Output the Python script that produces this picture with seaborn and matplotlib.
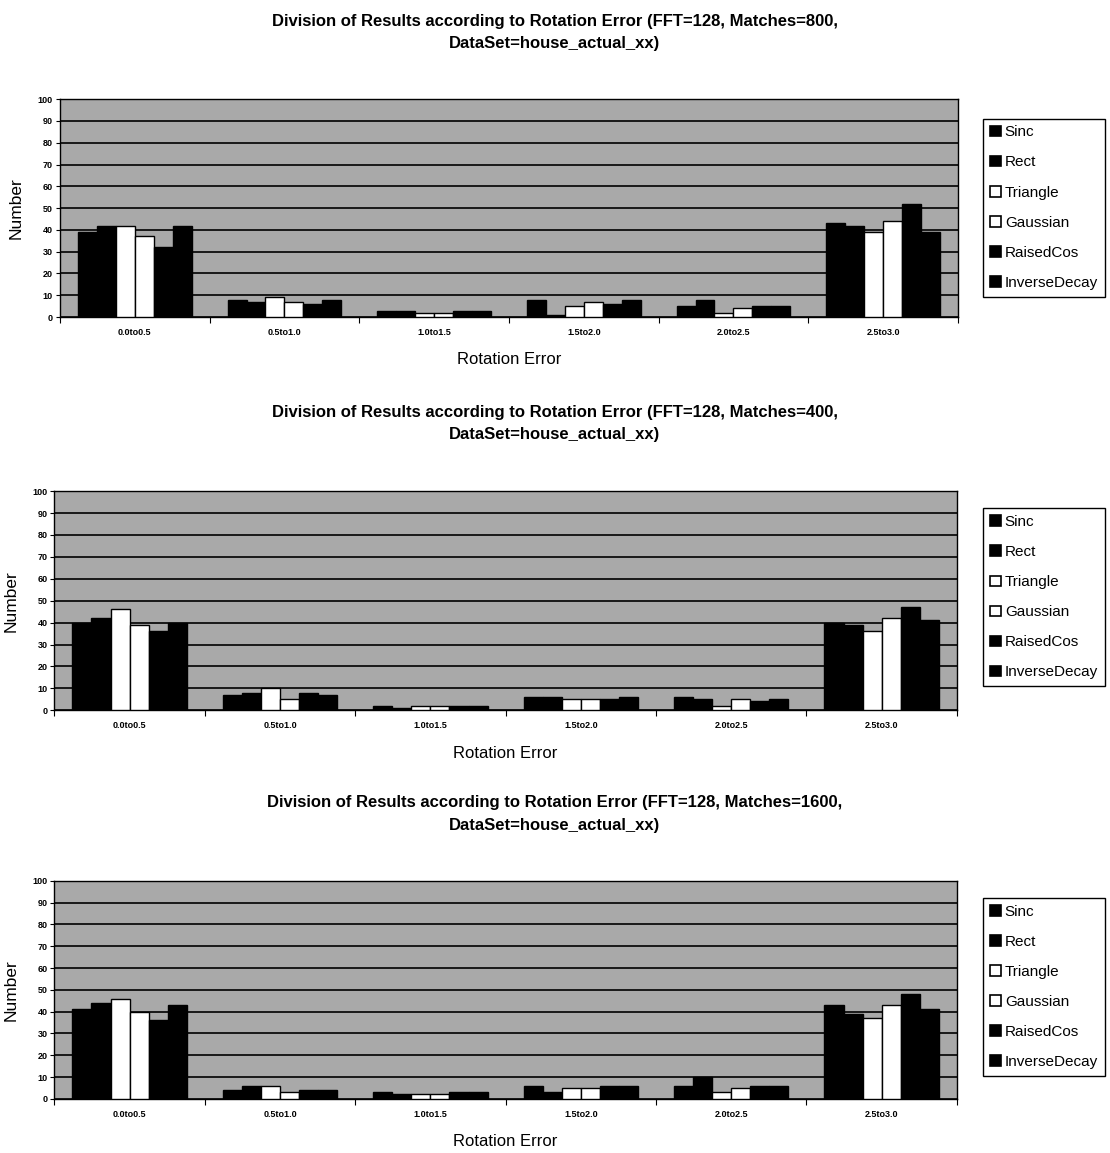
import matplotlib
matplotlib.use("Agg")
import matplotlib.pyplot as plt
import seaborn as sns
import pandas as pd
import numpy as np
from matplotlib.patches import Patch

# Rotation-error bins and interpolation filters
ranges = ["0.0to0.5", "0.5to1.0", "1.0to1.5", "1.5to2.0", "2.0to2.5", "2.5to3.0"]
filters = ["Sinc", "Rect", "Triangle", "Gaussian", "RaisedCos", "InverseDecay"]
filter_colors = ["#000000", "#000000", "#ffffff", "#ffffff", "#000000", "#000000"]

# Counts per filter (one list per filter, values per bin) for each matches setting
m800_sinc = [39, 8, 3, 8, 5, 43]
m800_rect = [42, 7, 3, 1, 8, 42]
m800_triangle = [42, 9, 2, 5, 2, 39]
m800_gaussian = [37, 7, 2, 7, 4, 44]
m800_raisedcos = [32, 6, 3, 6, 5, 52]
m800_inversedecay = [42, 8, 3, 8, 5, 39]

m400_sinc = [40, 7, 2, 6, 6, 40]
m400_rect = [42, 8, 1, 6, 5, 39]
m400_triangle = [46, 10, 2, 5, 2, 36]
m400_gaussian = [39, 5, 2, 5, 5, 42]
m400_raisedcos = [36, 8, 2, 5, 4, 47]
m400_inversedecay = [40, 7, 2, 6, 5, 41]

m1600_sinc = [41, 4, 3, 6, 6, 43]
m1600_rect = [44, 6, 2, 3, 10, 39]
m1600_triangle = [46, 6, 2, 5, 3, 37]
m1600_gaussian = [40, 3, 2, 5, 5, 43]
m1600_raisedcos = [36, 4, 3, 6, 6, 48]
m1600_inversedecay = [43, 4, 3, 6, 6, 41]

matches = [800, 400, 1600]
series = {
    800: [m800_sinc, m800_rect, m800_triangle, m800_gaussian, m800_raisedcos, m800_inversedecay],
    400: [m400_sinc, m400_rect, m400_triangle, m400_gaussian, m400_raisedcos, m400_inversedecay],
    1600: [m1600_sinc, m1600_rect, m1600_triangle, m1600_gaussian, m1600_raisedcos, m1600_inversedecay],
}

sns.set_theme(style="white")
plt.rcParams["font.family"] = ["Liberation Sans", "DejaVu Sans"]
plt.rcParams["text.color"] = "black"
plt.rcParams["axes.labelcolor"] = "black"
plt.rcParams["xtick.color"] = "black"
plt.rcParams["ytick.color"] = "black"

fig = plt.figure(figsize=(11.10, 11.53), dpi=100)

# axes rectangles [left, bottom, width, height] in figure fractions
axes_rects = [
    [0.054, 0.725, 0.809, 0.189],
    [0.049, 0.384, 0.813, 0.190],
    [0.049, 0.047, 0.813, 0.189],
]
title_y = [0.972, 0.633, 0.294]
legend_y = [0.820, 0.482, 0.144]

for m, rect, ty, ly in zip(matches, axes_rects, title_y, legend_y):
    rows = []
    for f, vals in zip(filters, series[m]):
        for r, v in zip(ranges, vals):
            rows.append({"range": r, "filter": f, "count": v})
    df = pd.DataFrame(rows)

    ax = fig.add_axes(rect)
    ax.set_facecolor("#a9a9a9")
    sns.barplot(data=df, x="range", y="count", hue="filter",
                order=ranges, hue_order=filters,
                palette=dict(zip(filters, filter_colors)),
                edgecolor="black", linewidth=1.0, width=0.76,
                saturation=1, errorbar=None, ax=ax, legend=False, zorder=3)

    ax.set_ylim(0, 100)
    ax.set_xlim(-0.5, len(ranges) - 0.5)
    ax.set_yticks(np.arange(0, 101, 10))
    ax.yaxis.grid(True, color="black", linewidth=1.2, zorder=1)
    ax.set_axisbelow(True)
    ax.tick_params(axis="y", labelsize=6.5, length=3, width=0.8, color="black",
                   direction="out", left=True, pad=2)
    for lab in ax.get_yticklabels():
        lab.set_fontweight("bold")
    ax.tick_params(axis="x", which="major", labelsize=6.5, length=0, pad=8)
    for lab in ax.get_xticklabels():
        lab.set_fontweight("bold")
    ax.set_xticks(np.arange(-0.5, len(ranges), 1.0), minor=True)
    ax.tick_params(axis="x", which="minor", length=4, width=0.8, color="black",
                   direction="out", bottom=True)

    for side in ["left", "bottom", "right", "top"]:
        ax.spines[side].set_visible(True)
        ax.spines[side].set_color("black")
        ax.spines[side].set_linewidth(1.0)

    ax.set_ylabel("Number", fontsize=12.5, labelpad=10)
    ax.set_xlabel("Rotation Error", fontsize=12, labelpad=11)

    fig.text(0.5, ty,
             f"Division of Results according to Rotation Error (FFT=128, Matches={m},\nDataSet=house_actual_xx)",
             ha="center", va="center", fontsize=12, fontweight="bold", linespacing=1.6)

    handles = [Patch(facecolor=c, edgecolor="black", linewidth=1.2) for c in filter_colors]
    fig.legend(handles, filters, loc="center left", bbox_to_anchor=(0.886, ly),
               frameon=True, fancybox=False, edgecolor="black", fontsize=11,
               handlelength=0.7, handleheight=0.7, handletextpad=0.25,
               labelspacing=1.05, borderpad=0.45, borderaxespad=0.0, framealpha=1)

fig.savefig("out.png", dpi=100, facecolor="white")
